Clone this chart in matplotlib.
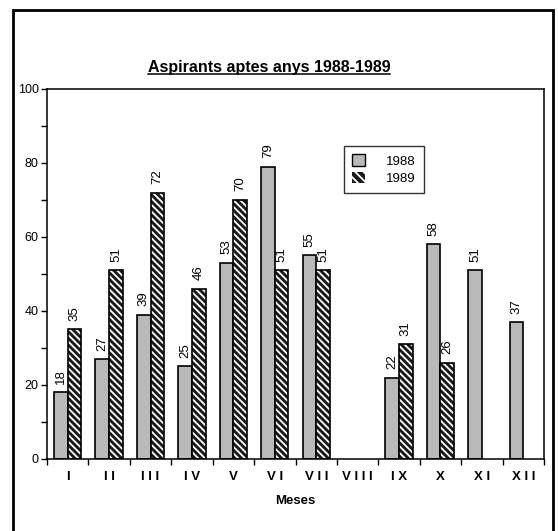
import numpy as np
import matplotlib
matplotlib.use('Agg')
from matplotlib import pyplot as plt
from matplotlib.patches import Rectangle, Patch

plt.rcParams['font.family'] = ['Liberation Sans', 'DejaVu Sans']
plt.rcParams['hatch.linewidth'] = 1.3

months = ['I', 'I I', 'I I I', 'I V', 'V', 'V I', 'V I I', 'V I I I', 'I X', 'X', 'X I', 'X I I']
# None = no bar that month
v1988 = [18, 27, 39, 25, 53, 79, 55, None, 22, 58, 51, 37]
v1989 = [35, 51, 72, 46, 70, 51, 51, None, 31, 26, None, None]

gray = '#b9b9b9'
dark = '#1a1a1a'

fig = plt.figure(figsize=(5.58, 5.31), dpi=100)
ax = fig.add_axes([0.0842, 0.1356, 0.975 - 0.0842, 0.8324 - 0.1356])

x = np.arange(len(months))
w = 0.33

for i in x:
    a = v1988[i]
    b = v1989[i]
    if a is not None:
        ax.bar(i - w / 2, a, w, color=gray, edgecolor='black', linewidth=1.2)
        ax.text(i - w / 2, a + 2.3, str(a), rotation=90, ha='center', va='bottom', fontsize=9.5)
    if b is not None:
        # white hatch on dark fill, then black outline on top
        ax.bar(i + w / 2, b, w, color=dark, edgecolor='white', hatch='\\\\\\\\\\', linewidth=0)
        ax.bar(i + w / 2, b, w, fill=False, edgecolor='black', linewidth=1.2)
        ax.text(i + w / 2, b + 2.3, str(b), rotation=90, ha='center', va='bottom', fontsize=9.5)

ax.set_xlim(-0.5, len(months) - 0.5)
ax.set_ylim(0, 100)
ax.set_yticks(np.arange(0, 101, 20))
ax.set_yticks(np.arange(0, 101, 10), minor=True)
ax.tick_params(axis='y', which='both', direction='out', length=4, width=1, labelsize=9, pad=2)

ax.set_xticks(x)
ax.set_xticklabels(months, fontsize=9.5, fontweight='bold')
ax.set_xticks(np.arange(-0.5, len(months)), minor=True)
ax.tick_params(axis='x', which='major', length=0, pad=9)
ax.tick_params(axis='x', which='minor', direction='out', length=4, width=1)
ax.set_xlabel('Meses', fontsize=9.5, fontweight='bold', labelpad=8)

for s in ax.spines.values():
    s.set_linewidth(1.1)

t = fig.text(0.482, 0.873, 'Aspirants aptes anys 1988-1989', ha='center', va='center',
             fontsize=11.5, fontweight='bold')
# underline under title
fig.canvas.draw()
bb = t.get_window_extent()
inv = fig.transFigure.inverted()
(x0, y0), (x1, y1) = inv.transform([[bb.x0, bb.y0], [bb.x1, bb.y1]])
fig.add_artist(plt.Line2D([x0, x1], [y0 + 0.002, y0 + 0.002], color='black', linewidth=1.1,
                          transform=fig.transFigure))

handles = [Patch(facecolor=gray, edgecolor='black', linewidth=1),
           Patch(facecolor=dark, edgecolor='white', hatch='\\\\\\\\', linewidth=0)]
leg = ax.legend(handles, ['1988', '1989'], loc='upper left', bbox_to_anchor=(0.598, 0.845),
                fontsize=9.5, frameon=True, fancybox=False, handlelength=1.0, handleheight=1.0,
                handletextpad=1.6, borderpad=0.6, labelspacing=0.3, borderaxespad=0)
leg.get_frame().set_edgecolor('black')
leg.get_frame().set_linewidth(1)

# outer frame
fig.add_artist(Rectangle((13 / 558, -0.02), (553 - 13) / 558, (531 - 10) / 531 + 0.02,
                         fill=False, edgecolor='black', linewidth=2, transform=fig.transFigure))

fig.savefig('out.png', dpi=100)
